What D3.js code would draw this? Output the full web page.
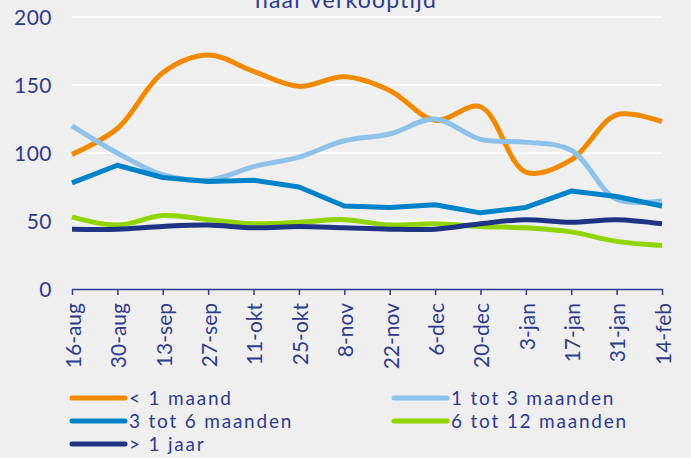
<!DOCTYPE html>
<html lang="nl">
<head>
  <meta charset="UTF-8">
  <title>Verkooptijd</title>
  <script src="https://d3js.org/d3.v7.min.js"></script>
  <style>
    body { margin: 0; background: #efefef; }
    svg text { font-family: "Lato", "DejaVu Sans", sans-serif; fill: #2e3c8c; }
  </style>
</head>
<body>
  <svg id="chart" width="691" height="458"></svg>
  <script>
    // data
    const dates = ["16-aug", "30-aug", "13-sep", "27-sep", "11-okt", "25-okt", "8-nov",
                   "22-nov", "6-dec", "20-dec", "3-jan", "17-jan", "31-jan", "14-feb"];
    const lessThan1 = [99, 118, 159, 172, 160, 149, 156, 146, 124, 134, 86, 95, 128, 123];
    const from1to3  = [120, 100, 84, 80, 90, 97, 109, 114, 125, 110, 108, 102, 66, 65];
    const from3to6  = [78, 91, 82, 79, 80, 75, 61, 60, 62, 56, 60, 72, 68, 61];
    const from6to12 = [53, 47, 54, 51, 48, 49, 51, 47, 48, 46, 45, 42, 35, 32];
    const moreThan1 = [44, 44, 46, 47, 45, 46, 45, 44, 44, 48, 51, 49, 51, 48];
    const yTicks = [0, 50, 100, 150, 200];

    const series = [
      { name: "< 1 maand",         values: lessThan1, color: "#f18a00", smooth: true },
      { name: "1 tot 3 maanden",   values: from1to3,  color: "#8fc2e9", smooth: true },
      { name: "3 tot 6 maanden",   values: from3to6,  color: "#0082c8", smooth: false },
      { name: "6 tot 12 maanden",  values: from6to12, color: "#92d400", smooth: true },
      { name: "> 1 jaar",          values: moreThan1, color: "#1f3584", smooth: true }
    ];

    const svg = d3.select("#chart");
    const plotLeft = 72, plotRight = 662, plotTop = 17, plotBottom = 289;

    const x = d3.scalePoint().domain(dates).range([plotLeft, plotRight]);
    const y = d3.scaleLinear().domain([0, 200]).range([plotBottom, plotTop]);

    // title, cut off at the top edge like in the original
    svg.append("text")
      .attr("x", 346).attr("y", 8)
      .attr("text-anchor", "middle")
      .style("font-size", "23px")
      .style("letter-spacing", "1.2px")
      .text("naar verkooptijd");

    // gridlines
    svg.append("g").selectAll("line")
      .data(yTicks.filter(d => d > 0))
      .join("line")
      .attr("x1", plotLeft).attr("x2", plotRight)
      .attr("y1", d => y(d)).attr("y2", d => y(d))
      .attr("stroke", "#ffffff").attr("stroke-width", 2);

    // y axis labels
    svg.append("g").selectAll("text")
      .data(yTicks)
      .join("text")
      .attr("x", 52).attr("y", d => y(d))
      .attr("dy", "0.36em")
      .attr("text-anchor", "end")
      .style("font-size", "21px")
      .style("letter-spacing", "0.5px")
      .text(d => d);

    // x axis
    const xAxis = svg.append("g")
      .attr("transform", `translate(0,${plotBottom})`)
      .call(d3.axisBottom(x).tickSize(6).tickSizeOuter(0));
    xAxis.select(".domain").attr("stroke", "#2e3c8c").attr("stroke-width", 1.5);
    xAxis.selectAll(".tick line").attr("stroke", "#2e3c8c").attr("stroke-width", 1.5);
    xAxis.selectAll(".tick text")
      .attr("transform", "rotate(-90)")
      .attr("x", -14).attr("y", 1).attr("dy", "0.35em")
      .attr("text-anchor", "end")
      .style("font-size", "21px")
      .style("font-family", "Lato, 'DejaVu Sans', sans-serif")
      .attr("fill", "#2e3c8c");

    // lines
    series.forEach(s => {
      const line = d3.line()
        .x((d, i) => x(dates[i]))
        .y(d => y(d))
        .curve(s.smooth ? d3.curveCatmullRom.alpha(0.5) : d3.curveLinear);
      svg.append("path")
        .datum(s.values)
        .attr("d", line)
        .attr("fill", "none")
        .attr("stroke", s.color)
        .attr("stroke-width", 5)
        .attr("stroke-linejoin", "round");
    });

    // legend
    const legendPos = [[72, 398], [394, 398], [72, 421], [394, 421], [72, 444]];
    series.forEach((s, i) => {
      const [lx, ly] = legendPos[i];
      svg.append("line")
        .attr("x1", lx).attr("x2", lx + 53)
        .attr("y1", ly).attr("y2", ly)
        .attr("stroke", s.color).attr("stroke-width", 5)
        .attr("stroke-linecap", "round");
      svg.append("text")
        .attr("x", lx + 57).attr("y", ly)
        .attr("dy", "0.36em")
        .style("font-size", "19px")
        .style("letter-spacing", "1.8px")
        .text(s.name);
    });
  </script>
</body>
</html>
